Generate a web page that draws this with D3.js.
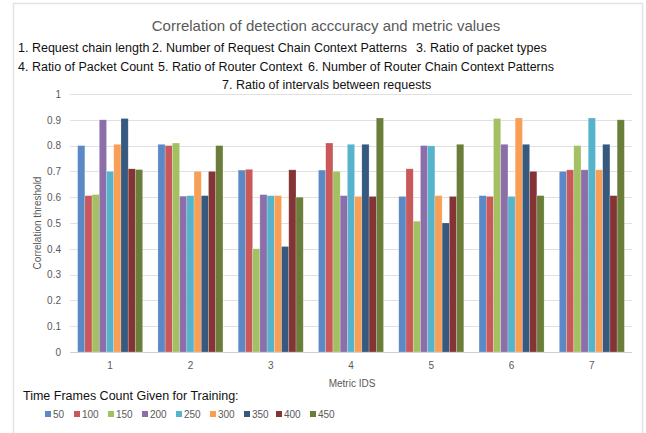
<!DOCTYPE html>
<html>
<head>
<meta charset="utf-8">
<script src="https://cdn.jsdelivr.net/npm/d3@7"></script>
<style>
  body { margin: 0; background: #fff; }
  text { font-family: "Liberation Sans", Arial, sans-serif; }
</style>
</head>
<body>
<div id="chart"></div>
<script>
// data
const metricIds = ['1', '2', '3', '4', '5', '6', '7']
const frameCounts = ['50', '100', '150', '200', '250', '300', '350', '400', '450']
const yTicks = [0, 0.1, 0.2, 0.3, 0.4, 0.5, 0.6, 0.7, 0.8, 0.9, 1]

// one array per time frame count, values for metric 1..7
const v50  = [0.80, 0.805, 0.705, 0.705, 0.603, 0.606, 0.70]
const v100 = [0.606, 0.80, 0.708, 0.81, 0.71, 0.603, 0.706]
const v150 = [0.61, 0.81, 0.40, 0.70, 0.507, 0.905, 0.80]
const v200 = [0.90, 0.604, 0.61, 0.606, 0.80, 0.805, 0.706]
const v250 = [0.70, 0.606, 0.606, 0.805, 0.799, 0.603, 0.907]
const v300 = [0.805, 0.70, 0.606, 0.603, 0.606, 0.907, 0.706]
const v350 = [0.905, 0.606, 0.409, 0.805, 0.50, 0.805, 0.805]
const v400 = [0.71, 0.70, 0.706, 0.603, 0.603, 0.70, 0.606]
const v450 = [0.707, 0.80, 0.60, 0.907, 0.805, 0.606, 0.90]

const seriesValues = [v50, v100, v150, v200, v250, v300, v350, v400, v450]
const colors = ['#5a89c5', '#c9585a', '#a3c062', '#8b6eaa', '#55b4cb', '#f99f55', '#35597f', '#843434', '#6a7e3a']

const descLines = [
  [['1. Request chain length', 18], ['2. Number of Request Chain Context Patterns', 152], ['3. Ratio of packet types', 416]],
  [['4. Ratio of Packet Count', 18], ['5. Ratio of Router Context', 158], ['6. Number of Router Chain Context Patterns', 308]],
  [['7. Ratio of intervals between requests', 222]]
]

const W = 646, H = 433
const plot = { left: 70, right: 632, top: 94, bottom: 352 }

const svg = d3.select('#chart')
  .append('svg')
    .attr('width', W)
    .attr('height', H)

// chart frame
svg.append('rect')
  .attr('x', 13.5).attr('y', 3.5)
  .attr('width', 629).attr('height', 440)
  .attr('fill', 'none')
  .attr('stroke', '#e3e3e3')
  .attr('stroke-width', 1.5)

const x0 = d3.scaleBand()
  .domain(metricIds)
  .range([plot.left, plot.right])
  .paddingInner(0.19)
  .paddingOuter(0.095)

const x1 = d3.scaleBand()
  .domain(frameCounts)
  .range([0, x0.bandwidth()])

const y = d3.scaleLinear()
  .domain([0, 1])
  .range([plot.bottom, plot.top])

// gridlines
svg.append('g')
  .selectAll('line')
  .data(yTicks)
  .join('line')
    .attr('x1', plot.left)
    .attr('x2', plot.right)
    .attr('y1', d => Math.round(y(d)) + 0.5)
    .attr('y2', d => Math.round(y(d)) + 0.5)
    .attr('stroke', d => d === 0 ? '#d0d0d0' : '#e0e0e0')
    .attr('stroke-width', 1)

// y axis labels
const yAxis = svg.append('g')
  .attr('transform', `translate(${plot.left - 3},0)`)
  .call(d3.axisLeft(y).tickValues(yTicks).tickSize(0).tickPadding(6).tickFormat(d3.format('~g')))
yAxis.select('.domain').remove()
yAxis.selectAll('text')
  .attr('fill', '#595959')
  .style('font-size', '10px')

// x axis labels
const xAxis = svg.append('g')
  .attr('transform', `translate(0,${plot.bottom})`)
  .call(d3.axisBottom(x0).tickSize(0).tickPadding(10))
xAxis.select('.domain').remove()
xAxis.selectAll('text')
  .attr('fill', '#595959')
  .style('font-size', '10px')

// bars
const groups = svg.append('g')
  .selectAll('g')
  .data(metricIds)
  .join('g')
    .attr('transform', d => `translate(${x0(d)},0)`)

groups.selectAll('rect')
  .data((d, i) => frameCounts.map((f, j) => ({ f: f, v: seriesValues[j][i], c: colors[j] })))
  .join('rect')
    .attr('x', d => x1(d.f))
    .attr('y', d => y(d.v))
    .attr('width', x1.bandwidth())
    .attr('height', d => y(0) - y(d.v))
    .attr('fill', d => d.c)
    .attr('stroke', 'white')
    .attr('stroke-opacity', 0.35)
    .attr('stroke-width', 0.6)

// title
svg.append('text')
  .attr('x', 326)
  .attr('y', 31)
  .attr('text-anchor', 'middle')
  .attr('fill', '#595959')
  .style('font-size', '15px')
  .text('Correlation of detection acccuracy and metric values')

// metric descriptions
descLines.forEach((line, i) => {
  svg.append('g')
    .selectAll('text')
    .data(line)
    .join('text')
      .attr('x', d => d[1])
      .attr('y', 52 + i * 18.5)
      .attr('fill', '#111')
      .style('font-size', '12.5px')
      .text(d => d[0])
})

// y axis title
svg.append('text')
  .attr('transform', `translate(41,${(plot.top + plot.bottom) / 2}) rotate(-90)`)
  .attr('text-anchor', 'middle')
  .attr('fill', '#595959')
  .style('font-size', '10px')
  .text('Correlation threshold')

// x axis title
svg.append('text')
  .attr('x', 352)
  .attr('y', 387)
  .attr('text-anchor', 'middle')
  .attr('fill', '#595959')
  .style('font-size', '10px')
  .text('Metric IDS')

// legend
svg.append('text')
  .attr('x', 23)
  .attr('y', 400)
  .attr('fill', '#111')
  .style('font-size', '12.5px')
  .text('Time Frames Count Given for Training:')

const legendX = [48, 77, 111, 145, 179, 213, 247, 279, 313]
const legend = svg.append('g')
  .selectAll('g')
  .data(frameCounts)
  .join('g')
    .attr('transform', (d, i) => `translate(${legendX[i]},414)`)

legend.append('rect')
  .attr('x', -3).attr('y', -3)
  .attr('width', 6).attr('height', 6)
  .attr('fill', (d, i) => colors[i])

legend.append('text')
  .attr('x', 5)
  .attr('y', 4)
  .attr('fill', '#595959')
  .style('font-size', '10px')
  .text(d => d)
</script>
</body>
</html>
